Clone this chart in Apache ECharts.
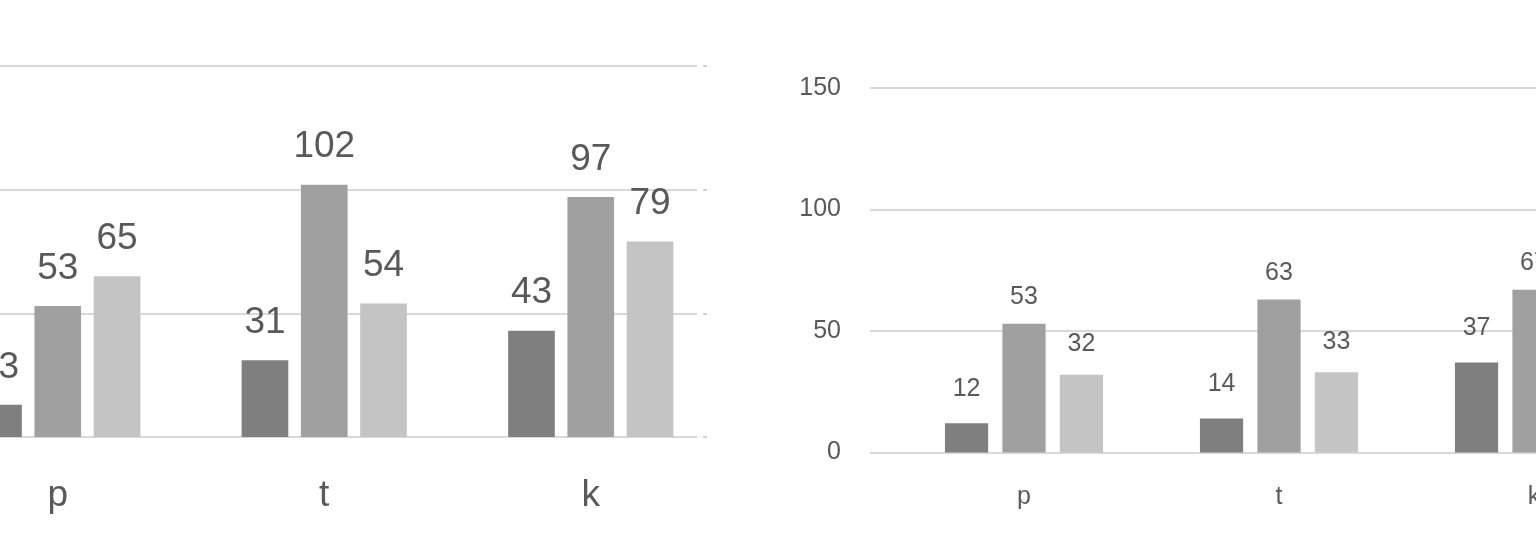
<!DOCTYPE html>
<html>
<head>
<meta charset="utf-8">
<script src="https://cdn.jsdelivr.net/npm/echarts@6/dist/echarts.min.js"></script>
<style>
html,body{margin:0;padding:0;background:#fff;}
#chart{width:1536px;height:546px;}
</style>
</head>
<body>
<div id="chart"></div>
<script>
// ---- data ----
const categories = ['p', 't', 'k'];
const leftSeries1 = [13, 31, 43];
const leftSeries2 = [53, 102, 97];
const leftSeries3 = [65, 54, 79];
const rightSeries1 = [12, 14, 37];
const rightSeries2 = [53, 63, 67];
const rightSeries3 = [32, 33, null];
const yTicks = [0, 50, 100, 150];

const FONT = '"Liberation Sans", Arial, sans-serif';
const TXT = '#595959';
const GRID = '#d9d9d9';
const COLORS = ['#7f7f7f', '#a0a0a0', '#c4c4c4'];

const chart = echarts.init(document.getElementById('chart'), null, {renderer: 'canvas'});

function barSeries(data, idx, axis, fontSize, dist, gapCat, gap) {
  return {
    type: 'bar', data: data, xAxisIndex: axis, yAxisIndex: axis,
    itemStyle: {color: COLORS[idx]},
    barCategoryGap: gapCat, barGap: gap,
    silent: true,
    label: {show: true, position: 'top', distance: dist, color: TXT,
            fontSize: fontSize, fontFamily: FONT}
  };
}

const yMin = yTicks[0], yMax = yTicks[yTicks.length - 1], yStep = yTicks[1] - yTicks[0];
const gb = {containLabel: false, outerBoundsMode: 'none'};

chart.setOption({
  animation: false,
  grid: [
    Object.assign({left: -100, top: 66, width: 797, height: 371}, gb),      // left gridlines
    Object.assign({left: -75.5, top: 66, width: 799.5, height: 371}, gb),   // left bars
    Object.assign({left: 870, top: 88, width: 700, height: 364.5}, gb),     // right gridlines
    Object.assign({left: 896.5, top: 88, width: 765, height: 364.5}, gb)    // right bars
  ],
  xAxis: [
    {gridIndex: 0, type: 'value', min: 0, max: 1, show: false},
    {gridIndex: 1, type: 'category', data: categories,
     axisLine: {show: false}, axisTick: {show: false},
     axisLabel: {color: TXT, fontSize: 37, fontFamily: FONT, margin: 40}},
    {gridIndex: 2, type: 'value', min: 0, max: 1, show: false},
    {gridIndex: 3, type: 'category', data: categories,
     axisLine: {show: false}, axisTick: {show: false},
     axisLabel: {color: TXT, fontSize: 25, fontFamily: FONT, margin: 32}}
  ],
  yAxis: [
    {gridIndex: 0, type: 'value', min: yMin, max: yMax, interval: yStep,
     axisLine: {show: false}, axisTick: {show: false}, axisLabel: {show: false},
     splitLine: {lineStyle: {color: GRID, width: 2}}},
    {gridIndex: 1, type: 'value', min: yMin, max: yMax, interval: yStep, show: false},
    {gridIndex: 2, type: 'value', min: yMin, max: yMax, interval: yStep,
     axisLine: {show: false}, axisTick: {show: false},
     axisLabel: {color: TXT, fontSize: 25, fontFamily: FONT, margin: 29},
     splitLine: {lineStyle: {color: GRID, width: 2}}},
    {gridIndex: 3, type: 'value', min: yMin, max: yMax, interval: yStep, show: false},
    {gridIndex: 0, type: 'value', min: yMin, max: yMax, interval: yStep,
     position: 'right', offset: 10,
     axisLine: {show: false}, axisLabel: {show: false}, splitLine: {show: false},
     axisTick: {show: true, inside: true, length: 4, lineStyle: {color: '#cfcfcf', width: 2}}}
  ],
  series: [
    barSeries(leftSeries1, 0, 1, 37, 19, '38%', '27%'),
    barSeries(leftSeries2, 1, 1, 37, 19, '38%', '27%'),
    barSeries(leftSeries3, 2, 1, 37, 19, '38%', '27%'),
    barSeries(rightSeries1, 0, 3, 25, 22, '38%', '33%'),
    barSeries(rightSeries2, 1, 3, 25, 14, '38%', '33%'),
    barSeries(rightSeries3, 2, 3, 25, 18, '38%', '33%')
  ]
});
</script>
</body>
</html>
